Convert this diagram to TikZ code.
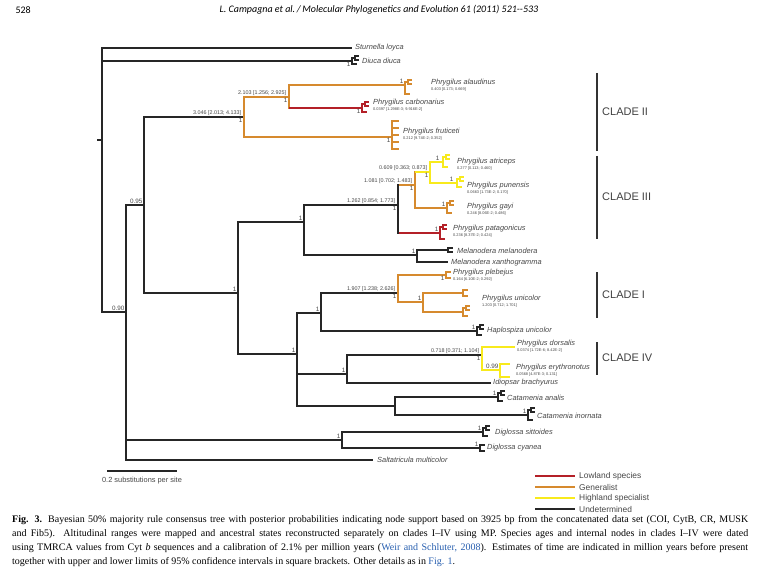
\documentclass[tikz,border=0pt]{standalone}
\usepackage{fontspec}
\setmainfont{Liberation Serif}
\setsansfont{Liberation Sans}
\newfontfamily\headfont{Carlito}
\usetikzlibrary{calc}

\definecolor{genc}{RGB}{214,138,46}
\definecolor{lowc}{RGB}{180,32,40}
\definecolor{highc}{RGB}{248,234,28}
\definecolor{labc}{RGB}{70,70,70}
\definecolor{linkc}{RGB}{40,95,175}

% vertical bar of a node, and a horizontal branch to a child
\newcommand{\spine}[4][]{\draw[line cap=rect,#1] (#2 |- #3) -- (#2 |- #4);}
\newcommand{\twig}[3][]{\draw[#1] (#2 |- #3) -- (#3);}

\tikzset{
  brb/.style={line width=1.1pt, black!85},
  genb/.style={line width=2.6pt, genc},
  lowb/.style={line width=2.6pt, lowc},
  highb/.style={line width=2.6pt, highc},
  undb/.style={line width=2.6pt, black!85},
  tipw/.style={line width=1.6pt},
  ppnum/.style={font=\sffamily\fontsize{6.3}{6.3}\selectfont, text=labc, inner sep=0.4pt},
  agelab/.style={font=\sffamily\fontsize{5.4}{6}\selectfont, text=labc, inner sep=0.6pt, anchor=south east},
  taxon/.style={font=\sffamily\itshape\fontsize{7.4}{8}\selectfont, text=labc, inner sep=0pt, anchor=west},
  tipage/.style={font=\sffamily\fontsize{3.9}{4.2}\selectfont, text=labc, inner sep=0pt, anchor=north west, yshift=-0.6pt},
  cladebar/.style={line width=2.4pt, black!80},
  cladetxt/.style={font=\sffamily\fontsize{11}{12}\selectfont, text=black!75, anchor=west, inner sep=0pt},
  legtxt/.style={font=\sffamily\fontsize{8.4}{9}\selectfont, text=labc, anchor=west, inner sep=0pt},
  fork/.pic={
    \draw[line cap=rect] (0,-#1) -- (0,#1);
    \draw (0,-#1) -- (5,-#1) (0,#1) -- (5,#1);
  },
  rake/.pic={
    \draw[line cap=rect] (0,-#1) -- (0,#1);
    \draw (0,#1) -- (5,#1) (0,-#1) -- (3,-#1);
    \draw[line cap=rect] (3,-#1-2) -- (3,-#1+2);
    \draw (3,-#1-2) -- (7,-#1-2) (3,-#1+2) -- (7,-#1+2);
  },
  comb/.pic={
    \draw[line cap=rect] (0,-#1) -- (0,#1);
    \foreach \t in {-1,-0.5,0,0.5,1} \draw (0,\t*#1) -- (7,\t*#1);
  }
}

\begin{document}
\begin{tikzpicture}[x=1pt,y=-1pt]
  \useasboundingbox (0,0) rectangle (759,572);

  % running head
  \node[anchor=west, font=\headfont\fontsize{10}{12}\selectfont] (pageno) at (12,10) {528};
  \node[font=\headfont\itshape\fontsize{10}{12}\selectfont] (runhead) at (379,10)
    {L. Campagna et al.\,/\,Molecular Phylogenetics and Evolution 61 (2011) 521--533};

  % tree nodes and tips
  \coordinate (root) at (102,140);
  \coordinate (stur) at (352,48);
  \coordinate (diuc) at (352,61);
  \coordinate (n90) at (126,312);
  \coordinate (n95) at (144,205);
  \coordinate (c2) at (244,117);
  \coordinate (n2b) at (289,97);
  \coordinate (alau) at (405,85);
  \coordinate (carb) at (362,108);
  \coordinate (frut) at (392,137);
  \coordinate (n238) at (238,293);
  \coordinate (n304) at (304,222);
  \coordinate (n398) at (398,205);
  \coordinate (n415) at (415,185);
  \coordinate (n430) at (430,172);
  \coordinate (atri) at (443,162);
  \coordinate (pune) at (457,183);
  \coordinate (gayi) at (447,208);
  \coordinate (pata) at (440,233);
  \coordinate (n417) at (417,255);
  \coordinate (mmel) at (448,250);
  \coordinate (mxan) at (448,262);
  \coordinate (n297) at (297,354);
  \coordinate (n321) at (321,313);
  \coordinate (n398b) at (398,293);
  \coordinate (pleb) at (446,275);
  \coordinate (n423) at (423,302);
  \coordinate (uni1) at (463,293);
  \coordinate (uni2) at (463,312);
  \coordinate (hapl) at (477,331);
  \coordinate (n347) at (347,374);
  \coordinate (n482) at (482,355);
  \coordinate (dors) at (515,347);
  \coordinate (n500) at (500,370);
  \coordinate (ery1) at (510,364);
  \coordinate (ery2) at (510,377);
  \coordinate (idio) at (491,383);
  \coordinate (n395) at (395,406);
  \coordinate (cana) at (498,397);
  \coordinate (cino) at (528,415);
  \coordinate (n342) at (342,440);
  \coordinate (dsit) at (483,432);
  \coordinate (dcya) at (480,448);
  \coordinate (salt) at (373,460);

  % backbone
  \draw[brb] (root) -- ++(-5,0);
  \spine[brb]{root}{stur}{n90} \twig[brb]{root}{stur} \twig[brb]{root}{diuc} \twig[brb]{root}{n90}
  \spine[brb]{n90}{n95}{salt} \twig[brb]{n90}{n95} \twig[brb]{n90}{n342} \twig[brb]{n90}{salt}
  \spine[brb]{n95}{c2}{n238} \twig[brb]{n95}{c2} \twig[brb]{n95}{n238}
  % clade II
  \spine[genb]{c2}{n2b}{frut} \twig[genb]{c2}{n2b} \twig[genb]{c2}{frut}
  \spine[genb]{n2b}{alau}{carb} \twig[genb]{n2b}{alau} \twig[lowb]{n2b}{carb}
  % clade III and Melanodera
  \spine[brb]{n238}{n304}{n297} \twig[brb]{n238}{n304} \twig[brb]{n238}{n297}
  \spine[brb]{n304}{n398}{n417} \twig[brb]{n304}{n398} \twig[brb]{n304}{n417}
  \twig[genb]{n398}{n415} \twig[lowb]{n398}{pata} \spine[undb]{n398}{n415}{pata}
  \spine[genb]{n415}{n430}{gayi} \twig[highb]{n415}{n430} \twig[genb]{n415}{gayi}
  \spine[highb]{n430}{atri}{pune} \twig[highb]{n430}{atri} \twig[highb]{n430}{pune}
  \spine[brb]{n417}{mmel}{mxan} \twig[brb]{n417}{mmel} \twig[brb]{n417}{mxan}
  % clade I, clade IV and the rest
  \spine[brb]{n297}{n321}{n395} \twig[brb]{n297}{n321} \twig[brb]{n297}{n347} \twig[brb]{n297}{n395}
  \spine[brb]{n321}{n398b}{hapl} \twig[brb]{n321}{n398b} \twig[brb]{n321}{hapl}
  \spine[genb]{n398b}{pleb}{n423} \twig[genb]{n398b}{pleb} \twig[genb]{n398b}{n423}
  \spine[genb]{n423}{uni1}{uni2} \twig[genb]{n423}{uni1} \twig[genb]{n423}{uni2}
  \spine[brb]{n347}{n482}{idio} \twig[brb]{n347}{n482} \twig[brb]{n347}{idio}
  \spine[highb]{n482}{dors}{n500} \twig[highb]{n482}{dors} \twig[highb]{n482}{n500}
  \spine[highb]{n500}{ery1}{ery2} \twig[highb]{n500}{ery1} \twig[highb]{n500}{ery2}
  \spine[brb]{n395}{cana}{cino} \twig[brb]{n395}{cana} \twig[brb]{n395}{cino}
  \spine[brb]{n342}{dsit}{dcya} \twig[brb]{n342}{dsit} \twig[brb]{n342}{dcya}

  % collapsed tips
  \pic[brb] at (diuc) {rake=3};
  \pic[genb,tipw] at ($(alau)+(0,3)$) {rake=6};
  \pic[lowb,tipw] at (carb) {rake=4};
  \pic[genb,tipw] at ($(frut)+(0,-2)$) {comb=14};
  \pic[highb,tipw] at (atri) {rake=5};
  \pic[highb,tipw] at (pune) {rake=4};
  \pic[genb,tipw] at (gayi) {rake=5};
  \pic[lowb,tipw] at (pata) {rake=6};
  \pic[brb] at (mmel) {fork=2};
  \pic[genb,tipw] at (pleb) {fork=3};
  \pic[genb,tipw] at (uni1) {fork=3};
  \pic[genb,tipw] at (uni2) {rake=4};
  \pic[brb] at (hapl) {rake=4};
  \pic[brb] at (cana) {rake=4};
  \pic[brb] at (cino) {rake=5};
  \pic[brb] at (dsit) {rake=4};
  \pic[brb] at (dcya) {fork=3};

  % posterior probabilities
  \node[ppnum,anchor=south east] (pp90) at ([shift={(-1,-1)}]n90) {0.90};
  \node[ppnum,anchor=south east] (pp95) at ([shift={(-1,-1)}]n95) {0.95};
  \node[ppnum,anchor=north east] (ppDiuc) at ([shift={(-1,1)}]diuc) {1};
  \node[ppnum,anchor=north east] (ppC2) at ([shift={(-1,1)}]c2) {1};
  \node[ppnum,anchor=north east] (ppN2b) at ([shift={(-1,1)}]n2b) {1};
  \node[ppnum,anchor=south east] (ppAlau) at ([shift={(-1,-1)}]alau) {1};
  \node[ppnum,anchor=north east] (ppCarb) at ([shift={(-1,1)}]carb) {1};
  \node[ppnum,anchor=north east] (ppFrut) at ([shift={(-1,1)}]frut) {1};
  \node[ppnum,anchor=south east] (ppN238) at ([shift={(-1,-1)}]n238) {1};
  \node[ppnum,anchor=south east] (ppN304) at ([shift={(-1,-1)}]n304) {1};
  \node[ppnum,anchor=north east] (ppN398) at ([shift={(-1,1)}]n398) {1};
  \node[ppnum,anchor=north east] (ppN415) at ([shift={(-1,1)}]n415) {1};
  \node[ppnum,anchor=north east] (ppN430) at ([shift={(-1,1)}]n430) {1};
  \node[ppnum,anchor=south east] (ppAtri) at ([shift={(-3,-1)}]atri) {1};
  \node[ppnum,anchor=south east] (ppPune) at ([shift={(-3,-1)}]pune) {1};
  \node[ppnum,anchor=south east] (ppGayi) at ([shift={(-1,-1)}]gayi) {1};
  \node[ppnum,anchor=south east] (ppPata) at ([shift={(-1,-1)}]pata) {1};
  \node[ppnum,anchor=south east] (ppN417) at ([shift={(-1,-1)}]n417) {1};
  \node[ppnum,anchor=south east] (ppN297) at ([shift={(-1,-1)}]n297) {1};
  \node[ppnum,anchor=south east] (ppN321) at ([shift={(-1,-1)}]n321) {1};
  \node[ppnum,anchor=north east] (ppN398b) at ([shift={(-1,1)}]n398b) {1};
  \node[ppnum,anchor=north east] (ppPleb) at ([shift={(-1,1)}]pleb) {1};
  \node[ppnum,anchor=south east] (ppN423) at ([shift={(-1,-1)}]n423) {1};
  \node[ppnum,anchor=south east] (ppHapl) at ([shift={(-1,-1)}]hapl) {1};
  \node[ppnum,anchor=south east] (ppN347) at ([shift={(-1,-1)}]n347) {1};
  \node[ppnum,anchor=north east] (ppN482) at ([shift={(-1,1)}]n482) {1};
  \node[ppnum,anchor=south east] (ppN500) at ([shift={(-1,-1)}]n500) {0.99};
  \node[ppnum,anchor=south east] (ppCana) at ([shift={(-1,-1)}]cana) {1};
  \node[ppnum,anchor=south east] (ppCino) at ([shift={(-1,-1)}]cino) {1};
  \node[ppnum,anchor=south east] (ppN342) at ([shift={(-1,-1)}]n342) {1};
  \node[ppnum,anchor=south east] (ppDsit) at ([shift={(-1,-1)}]dsit) {1};
  \node[ppnum,anchor=south east] (ppDcya) at ([shift={(-1,-1)}]dcya) {1};

  % node ages
  \node[agelab] (agC2) at ([shift={(-2,-1)}]c2) {3.046 [2.013; 4.133]};
  \node[agelab] (agN2b) at ([shift={(-2,-1)}]n2b) {2.103 [1.256; 2.925]};
  \node[agelab] (agN398) at ([shift={(-2,-1)}]n398) {1.262 [0.854; 1.773]};
  \node[agelab] (agN415) at ([shift={(-2,-1)}]n415) {1.081 [0.702; 1.483]};
  \node[agelab] (agN430) at ([shift={(-2,-1)}]n430) {0.609 [0.363; 0.873]};
  \node[agelab] (agN398b) at ([shift={(-2,-1)}]n398b) {1.907 [1.238; 2.626]};
  \node[agelab] (agN482) at ([shift={(-2,-1)}]n482) {0.718 [0.371; 1.104]};

  % taxa
  \node[taxon] (tStur) at (355,48) {Sturnella loyca};
  \node[taxon] (tDiuc) at (362,61) {Diuca diuca};
  \node[taxon] (tAlau) at (431,83) {Phrygilus alaudinus};
  \node[tipage] (aAlau) at (tAlau.south west) {0.403 [0.173; 0.669]};
  \node[taxon] (tCarb) at (373,103) {Phrygilus carbonarius};
  \node[tipage] (aCarb) at (tCarb.south west) {0.0397 [1.298E-3; 9.916E-2]};
  \node[taxon] (tFrut) at (403,132) {Phrygilus fruticeti};
  \node[tipage] (aFrut) at (tFrut.south west) {0.212 [9.74E-2; 0.352]};
  \node[taxon] (tAtri) at (457,162) {Phrygilus atriceps};
  \node[tipage] (aAtri) at (tAtri.south west) {0.277 [0.113; 0.460]};
  \node[taxon] (tPune) at (467,186) {Phrygilus punensis};
  \node[tipage] (aPune) at (tPune.south west) {0.0663 [1.73E-2; 0.170]};
  \node[taxon] (tGayi) at (467,207) {Phrygilus gayi};
  \node[tipage] (aGayi) at (tGayi.south west) {0.246 [8.06E-2; 0.486]};
  \node[taxon] (tPata) at (453,229) {Phrygilus patagonicus};
  \node[tipage] (aPata) at (tPata.south west) {0.236 [8.37E-2; 0.424]};
  \node[taxon] (tMmel) at (457,251) {Melanodera melanodera};
  \node[taxon] (tMxan) at (451,263) {Melanodera xanthogramma};
  \node[taxon] (tPleb) at (453,273) {Phrygilus plebejus};
  \node[tipage] (aPleb) at (tPleb.south west) {0.164 [6.10E-2; 0.292]};
  \node[taxon] (tUnic) at (482,299) {Phrygilus unicolor};
  \node[tipage] (aUnic) at (tUnic.south west) {1.203 [0.712; 1.701]};
  \node[taxon] (tHapl) at (487,331) {Haplospiza unicolor};
  \node[taxon] (tDors) at (517,344) {Phrygilus dorsalis};
  \node[tipage] (aDors) at (tDors.south west) {0.0374 [1.72E-6; 8.42E-2]};
  \node[taxon] (tEryt) at (516,368) {Phrygilus erythronotus};
  \node[tipage] (aEryt) at (tEryt.south west) {0.0568 [4.87E-3; 0.131]};
  \node[taxon] (tIdio) at (493,383) {Idiopsar brachyurus};
  \node[taxon] (tCana) at (507,398) {Catamenia analis};
  \node[taxon] (tCino) at (537,416) {Catamenia inornata};
  \node[taxon] (tDsit) at (495,433) {Diglossa sittoides};
  \node[taxon] (tDcya) at (487,448) {Diglossa cyanea};
  \node[taxon] (tSalt) at (377,460) {Saltatricula multicolor};

  % clades
  \draw[cladebar] (597,73) -- (597,151);
  \node[cladetxt] (clII) at (602,112) {CLADE II};
  \draw[cladebar] (597,156) -- (597,239);
  \node[cladetxt] (clIII) at (602,197) {CLADE III};
  \draw[cladebar] (597,272) -- (597,318);
  \node[cladetxt] (clI) at (602,295) {CLADE I};
  \draw[cladebar] (597,342) -- (597,375);
  \node[cladetxt] (clIV) at (602,358) {CLADE IV};

  % scale bar
  \draw[brb] (107,471) -- (177,471);
  \node[font=\sffamily\fontsize{7.4}{8}\selectfont, text=labc] (scaletxt) at (142,481) {0.2 substitutions per site};

  % legend
  \foreach \c/\t [count=\i] in {lowc/Lowland species, genc/Generalist, highc/Highland specialist, black!85/Undetermined} {
    \draw[line width=2.6pt, \c] (535,465+11*\i) -- (575,465+11*\i);
    \node[legtxt] (leg\i) at (579,465+11*\i) {\t};
  }

  % caption
  \node[anchor=north west, align=left, inner sep=0pt,
        font=\fontsize{10}{14}\selectfont] (caption) at (12,515)
  {\makebox[736pt][s]{\textbf{Fig. 3.} Bayesian 50\% majority rule consensus tree with posterior probabilities indicating node support based on 3925 bp from the concatenated data set (COI, CytB, CR, MUSK}\\
   \makebox[736pt][s]{and Fib5). Altitudinal ranges were mapped and ancestral states reconstructed separately on clades I--IV using MP. Species ages and internal nodes in clades I--IV were dated}\\
   \makebox[736pt][s]{using TMRCA values from Cyt \textit{b} sequences and a calibration of 2.1\% per million years (\textcolor{linkc}{Weir and Schluter, 2008}). Estimates of time are indicated in million years before present}\\
   together with upper and lower limits of 95\% confidence intervals in square brackets. Other details as in \textcolor{linkc}{Fig. 1}.};
\end{tikzpicture}
\end{document}
